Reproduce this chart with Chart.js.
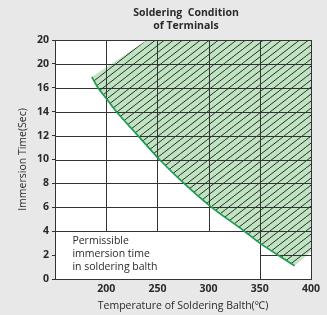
<!DOCTYPE html>
<html>
<head>
<meta charset="utf-8">
<script src="https://cdn.jsdelivr.net/npm/chart.js@4.4.1/dist/chart.umd.min.js"></script>
<style>
  html, body { margin: 0; padding: 0; background: #e8e8e8; }
  #wrap { width: 327px; height: 315px; }
</style>
</head>
<body>
<div id="wrap"><canvas id="c" width="327" height="315"></canvas></div>
<script>
// ---- data ----
const titleLines = ['Soldering  Condition', 'of Terminals'];
const xTitle = 'Temperature of Soldering Balth(\u2103)';
const yTitle = 'Immersion Time(Sec)';
const noteLines = ['Permissible', 'immersion time', 'in soldering balth'];

const xTicks = [200, 250, 300, 350, 400];
const yTickValues = [0, 2, 4, 6, 8, 10, 12, 14, 16, 18, 20];
const yTickLabels = ['0', '2', '4', '6', '8', '10', '12', '14', '16', '20', '20'];

// boundary curve of permissible area (temperature, seconds)
const curveX = [186, 192, 201, 210, 231, 252, 276, 303, 335, 350, 384];
const curveY = [16.9, 16, 15, 14, 12, 10, 8, 6, 4, 3, 1.1];
// remaining corners of the permissible (hatched) region
const regionX = [240, 400, 400];
const regionY = [20, 20, 2.3];

// unhatched note box (no grid inside): x below / y below
const boxX = 350, boxY = 4;

const curvePts = curveX.map((x, i) => ({x, y: curveY[i]}));
const regionPts = [curvePts[0]]
  .concat(regionX.map((x, i) => ({x, y: regionY[i]})))
  .concat(curvePts.slice().reverse());

// hatch pattern
function makePattern() {
  const w = 9, h = 7;
  const c = document.createElement('canvas');
  c.width = w; c.height = h;
  const g = c.getContext('2d');
  g.fillStyle = '#c0e3c2';
  g.fillRect(0, 0, w, h);
  g.strokeStyle = '#2b2b2b';
  g.lineWidth = 1;
  for (const off of [-w, 0, w]) {
    g.beginPath();
    g.moveTo(off, h);
    g.lineTo(off + w, 0);
    g.stroke();
  }
  return g.createPattern(c, 'repeat');
}

const FONT = "'Open Sans', 'Noto Sans', sans-serif";
const TXT = '#2a2a2a';

const bgPlugin = {
  id: 'bg',
  beforeDatasetsDraw(chart) {
    const {ctx, chartArea: a} = chart;
    ctx.save();
    ctx.fillStyle = '#ffffff';
    ctx.fillRect(a.left, a.top, a.right - a.left, a.bottom - a.top);
    ctx.restore();
  },
  afterDatasetDraw(chart, args) {
    if (args.index !== 0) return;
    const {ctx, scales: {x, y}} = chart;
    const px = v => Math.round(x.getPixelForValue(v)) + 0.5;
    const py = v => Math.round(y.getPixelForValue(v)) + 0.5;
    ctx.save();
    ctx.strokeStyle = '#333333';
    ctx.lineWidth = 1;
    ctx.beginPath();
    for (const v of yTickValues) {
      if (v <= y.min || v >= y.max) continue;
      const x0 = v < boxY ? boxX : x.min;
      ctx.moveTo(px(x0), py(v));
      ctx.lineTo(px(x.max), py(v));
    }
    for (const v of xTicks) {
      if (v <= x.min || v >= x.max) continue;
      const y0 = v < boxX ? boxY : y.min;
      ctx.moveTo(px(v), py(y0));
      ctx.lineTo(px(v), py(y.max));
    }
    ctx.stroke();
    ctx.strokeRect(px(x.min), py(y.max), px(x.max) - px(x.min), py(y.min) - py(y.max));
    ctx.restore();
  },
  afterDraw(chart) {
    const {ctx, chartArea: a, scales: {x}} = chart;
    ctx.save();
    ctx.fillStyle = TXT;
    ctx.textAlign = 'center';
    ctx.textBaseline = 'middle';
    ctx.font = 'bold 10.5px ' + FONT;
    const cx = (a.left + a.right) / 2 + 3;
    titleLines.forEach((t, i) => ctx.fillText(t, cx, 13 + i * 13.5));
    ctx.textAlign = 'left';
    ctx.font = '10.5px ' + FONT;
    const nx = x.getPixelForValue(167);
    noteLines.forEach((t, i) => ctx.fillText(t, nx, 241 + i * 13.2));
    ctx.restore();
  }
};

new Chart(document.getElementById('c'), {
  type: 'line',
  data: {
    datasets: [
      {
        data: regionPts,
        fill: 'shape',
        backgroundColor: makePattern(),
        borderWidth: 0,
        pointRadius: 0,
        tension: 0,
        order: 2
      },
      {
        data: curvePts,
        fill: false,
        borderColor: '#1c9c4e',
        borderWidth: 1.7,
        pointRadius: 0,
        tension: 0.3,
        order: 1
      }
    ]
  },
  options: {
    responsive: false,
    animation: false,
    devicePixelRatio: 1,
    layout: { padding: { left: 0, right: 16, top: 40, bottom: 0 } },
    plugins: { legend: { display: false }, tooltip: { enabled: false }, title: { display: false } },
    scales: {
      x: {
        type: 'linear',
        min: 150, max: 400,
        afterBuildTicks: s => { s.ticks = xTicks.map(v => ({value: v})); },
        afterFit: s => { s.height = 36; },
        grid: { drawOnChartArea: false, drawTicks: false },
        border: { display: false },
        ticks: { color: TXT, padding: 4, font: { family: FONT, size: 10.5, weight: 'bold' }, maxRotation: 0 },
        title: { display: true, text: xTitle, color: TXT, padding: { top: 0, bottom: 3 }, font: { family: FONT, size: 10.5 } }
      },
      y: {
        min: 0, max: 20,
        afterBuildTicks: s => { s.ticks = yTickValues.map(v => ({value: v})); },
        afterFit: s => { s.width = 55; },
        grid: { drawOnChartArea: false, drawTicks: true, tickLength: 3, color: '#333333' },
        border: { display: false },
        ticks: {
          color: TXT, padding: 3,
          font: { family: FONT, size: 10.5, weight: 'bold' },
          callback: v => yTickLabels[yTickValues.indexOf(v)]
        },
        title: { display: true, text: yTitle, color: TXT, padding: { top: 17, bottom: 0 }, font: { family: FONT, size: 10.5 } }
      }
    }
  },
  plugins: [bgPlugin]
});
</script>
</body>
</html>
